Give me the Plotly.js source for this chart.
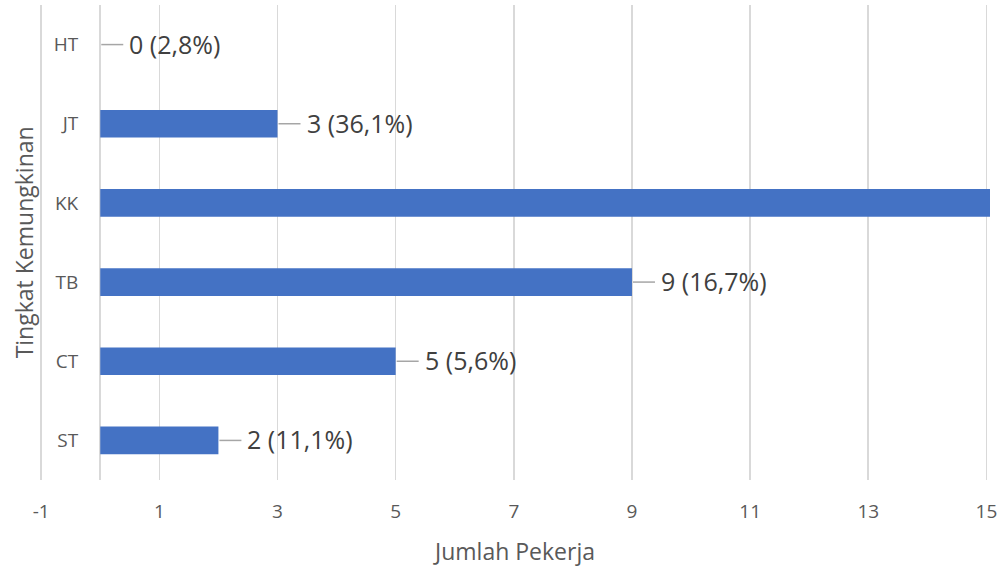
<!DOCTYPE html>
<html>
<head>
<meta charset="utf-8">
<script src="https://cdn.plot.ly/plotly-3.0.1.min.js"></script>
<style>html,body{margin:0;padding:0;background:#fff;}#chart{width:1008px;height:567px;}</style>
</head>
<body>
<div id="chart"></div>
<script>
var categories = ['ST', 'CT', 'TB', 'KK', 'JT', 'HT'];
var values = [2, 5, 9, 16, 3, 0];
var valueLabels = ['2 (11,1%)', '5 (5,6%)', '9 (16,7%)', '', '3 (36,1%)', '0 (2,8%)'];
var xTicks = [-1, 1, 3, 5, 7, 9, 11, 13, 15];
var xTitle = 'Jumlah Pekerja';
var yTitle = 'Tingkat Kemungkinan';

var xRange = [-1.02, 15.06];
var font = '"Open Sans", "Noto Sans", sans-serif';

var shapes = [];
var annotations = [];
for (var i = 0; i < categories.length; i++) {
  if (!valueLabels[i]) continue;
  shapes.push({
    type: 'line', xref: 'x', yref: 'y', xsizemode: 'pixel', xanchor: values[i],
    x0: 1, x1: 23, y0: categories[i], y1: categories[i],
    line: {color: '#a6a6a6', width: 1.5}
  });
  annotations.push({
    x: values[i], y: categories[i], xref: 'x', yref: 'y', text: valueLabels[i],
    showarrow: false, xanchor: 'left', yanchor: 'middle', xshift: 27, yshift: 1,
    font: {family: font, size: 25, color: '#404040'}
  });
}
annotations.push({
  xref: 'paper', yref: 'paper', x: -0.017, y: 0.5, text: yTitle, textangle: -90,
  showarrow: false, xanchor: 'center', yanchor: 'middle',
  font: {family: font, size: 23, color: '#595959'}
});

var trace = {
  type: 'bar', orientation: 'h', y: categories, x: values,
  marker: {color: '#4472c4', line: {width: 0}},
  width: 0.35, hoverinfo: 'none'
};

var layout = {
  width: 1008, height: 567,
  margin: {l: 39.8, r: 17.5, t: 5, b: 86.5},
  paper_bgcolor: '#ffffff', plot_bgcolor: '#ffffff',
  showlegend: false,
  xaxis: {
    range: xRange, tickmode: 'array', tickvals: xTicks, ticktext: xTicks.map(String),
    showgrid: true, gridcolor: '#d9d9d9', gridwidth: 1.6,
    zeroline: true, zerolinecolor: '#d9d9d9', zerolinewidth: 1.6,
    showline: false, ticks: '', ticklabelstandoff: 18,
    tickfont: {family: font, size: 19, color: '#595959'},
    title: {text: xTitle, standoff: 20, font: {family: font, size: 23, color: '#595959'}},
    fixedrange: true
  },
  yaxis: {
    type: 'category', categoryorder: 'array', categoryarray: categories,
    range: [-0.5, categories.length - 0.5],
    anchor: 'free', position: (0 - xRange[0]) / (xRange[1] - xRange[0]),
    showgrid: false, zeroline: false, showline: false, ticks: '',
    ticklabelstandoff: 22,
    tickfont: {family: font, size: 19, color: '#595959'},
    fixedrange: true
  },
  shapes: shapes,
  annotations: annotations
};

Plotly.newPlot('chart', [trace], layout, {displayModeBar: false, staticPlot: true});
</script>
</body>
</html>
